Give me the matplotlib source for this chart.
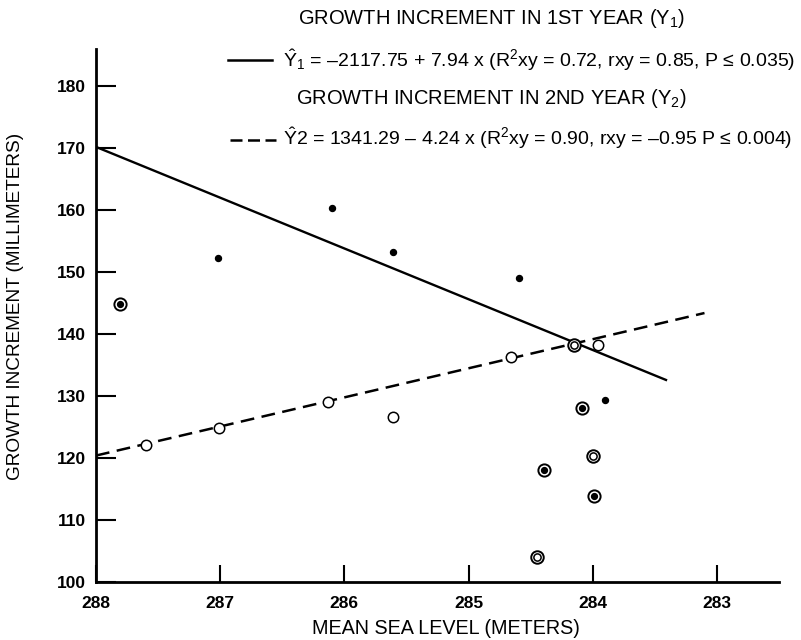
import matplotlib.pyplot as plt
from matplotlib.lines import Line2D

plt.close('all')

# Mean sea level (m) and growth increment (mm)
yr1_x = [287.02, 286.10, 285.61, 284.59, 283.90]
yr1_y = [152.2, 160.3, 153.2, 149.1, 129.3]

yr2_x = [287.60, 287.01, 286.13, 285.61, 284.66, 283.96]
yr2_y = [122.1, 124.9, 129.1, 126.7, 136.3, 138.2]

dot_ring_x = [287.81, 284.09, 284.39, 283.99]
dot_ring_y = [144.8, 128.1, 118.1, 113.9]

dbl_ring_x = [284.15, 284.00, 284.45]
dbl_ring_y = [138.3, 120.3, 104.0]

# Regression lines as drawn
fit1_x = [288.0, 283.41]
fit1_y = [170.2, 132.6]
fit2_x = [288.0, 283.10]
fit2_y = [120.4, 143.4]

xticks = [288, 287, 286, 285, 284, 283]
yticks = [100, 110, 120, 130, 140, 150, 160, 170, 180]

font = ['Liberation Sans', 'DejaVu Sans']
plt.rcParams['font.family'] = font
plt.rcParams['mathtext.fontset'] = 'custom'
plt.rcParams['mathtext.rm'] = 'Liberation Sans'
plt.rcParams['mathtext.it'] = 'Liberation Sans'

fig = plt.figure(figsize=(8.01, 6.4), dpi=100)
ax = fig.add_axes([96/801, 1 - 582/640, (779 - 96)/801, (582 - 49)/640])

# Lines
ax.plot(fit1_x, fit1_y, 'k-', lw=1.7)
ax.plot(fit2_x, fit2_y, color='k', lw=1.8, linestyle=(0, (5.5, 3.0)))

# Points
ax.plot(yr1_x, yr1_y, 'ko', ms=4.3, ls='none')
ax.plot(yr2_x, yr2_y, 'o', ms=7.5, mfc='white', mec='k', mew=1.1, ls='none')
ax.plot(dot_ring_x, dot_ring_y, 'o', ms=8.8, mfc='white', mec='k', mew=1.4, ls='none')
ax.plot(dot_ring_x, dot_ring_y, 'ko', ms=4.2, ls='none')
ax.plot(dbl_ring_x, dbl_ring_y, 'o', ms=9.0, mfc='white', mec='k', mew=1.4, ls='none')
ax.plot(dbl_ring_x, dbl_ring_y, 'o', ms=5.2, mfc='white', mec='k', mew=1.1, ls='none')

ax.set_xlim(288, 282.5)
ax.set_ylim(100, 186)
ax.set_xticks(xticks)
ax.set_yticks(yticks)
ax.set_xticklabels([str(t) for t in xticks], fontsize=12.5, fontweight='bold')
ax.set_yticklabels([str(t) for t in yticks], fontsize=12.5, fontweight='bold')
ax.tick_params(axis='x', direction='in', length=12, width=1.5, pad=10)
ax.tick_params(axis='y', direction='in', length=14.5, width=1.5, pad=7)

for s in ['top', 'right']:
    ax.spines[s].set_visible(False)
ax.spines['left'].set_linewidth(2.0)
ax.spines['bottom'].set_linewidth(2.0)

# Axis titles
fig.text(446/801, 1 - 629/640, 'MEAN SEA LEVEL (METERS)',
         ha='center', va='center', fontsize=14.2)
fig.text(16/801, 1 - 306/640, 'GROWTH INCREMENT (MILLIMETERS)', rotation=90,
         ha='center', va='center', fontsize=13.7)

# Key at top of the figure
fig.text(492/801, 1 - 18/640, 'GROWTH INCREMENT IN 1ST YEAR (Y$_1$)',
         ha='center', va='center', fontsize=14.5)
fig.text(283/801, 1 - 60/640,
         r'$\hat{Y}_1$ = –2117.75 + 7.94 x (R$^2$xy = 0.72, rxy = 0.85, P ≤ 0.035)',
         ha='left', va='center', fontsize=14)
fig.text(491/801, 1 - 98/640, 'GROWTH INCREMENT IN 2ND YEAR (Y$_2$)',
         ha='center', va='center', fontsize=14.5)
fig.text(283/801, 1 - 138/640,
         r'$\hat{Y}$2 = 1341.29 – 4.24 x (R$^2$xy = 0.90, rxy = –0.95 P ≤ 0.004)',
         ha='left', va='center', fontsize=14)

fig.add_artist(Line2D([228/801, 272/801], [1 - 60/640, 1 - 60/640], color='k', lw=1.8))
fig.add_artist(Line2D([230/801, 276/801], [1 - 140/640, 1 - 140/640], color='k', lw=1.8,
                      linestyle=(0, (4.8, 2.2))))

fig.savefig('out.png', dpi=100)
